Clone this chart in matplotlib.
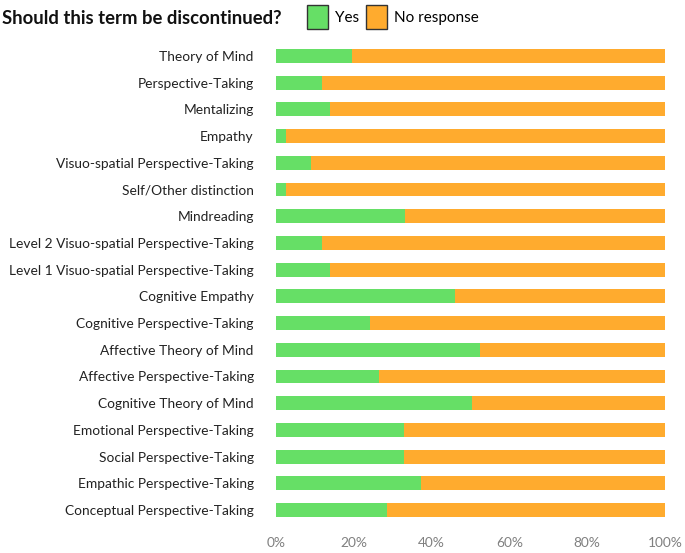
import matplotlib.pyplot as plt
from matplotlib.patches import Patch

plt.rcParams['font.family'] = ['Lato', 'DejaVu Sans']

terms = [
    "Theory of Mind", "Perspective-Taking", "Mentalizing", "Empathy",
    "Visuo-spatial Perspective-Taking", "Self/Other distinction", "Mindreading",
    "Level 2 Visuo-spatial Perspective-Taking", "Level 1 Visuo-spatial Perspective-Taking",
    "Cognitive Empathy", "Cognitive Perspective-Taking", "Affective Theory of Mind",
    "Affective Perspective-Taking", "Cognitive Theory of Mind",
    "Emotional Perspective-Taking", "Social Perspective-Taking",
    "Empathic Perspective-Taking", "Conceptual Perspective-Taking",
]
yes_pct = [19.6, 11.7, 13.8, 2.6, 8.9, 2.6, 33.2, 11.7, 13.8,
           45.9, 24.2, 52.4, 26.6, 50.5, 32.9, 32.9, 37.3, 28.5]
no_response_pct = [100 - v for v in yes_pct]

green = "#66DF66"
orange = "#FFAB2E"

fig = plt.figure(figsize=(6.85, 5.53), dpi=100)
ax = fig.add_axes([276 / 685, 1 - 523.4 / 553, 389 / 685, (523.4 - 42.6) / 553])

ypos = range(len(terms))
ax.barh(ypos, yes_pct, height=0.52, color=green)
ax.barh(ypos, no_response_pct, left=yes_pct, height=0.52, color=orange)

ax.set_ylim(len(terms) - 0.5, -0.5)
ax.set_xlim(0, 100)
ax.set_yticks(list(ypos))
ax.set_yticklabels(terms, fontsize=9.9, color="#222222")
ax.set_xticks([0, 20, 40, 60, 80, 100])
ax.set_xticklabels(["0%", "20%", "40%", "60%", "80%", "100%"], fontsize=9.9, color="#808080")
ax.tick_params(length=0, axis="y", pad=16)
ax.tick_params(length=0, axis="x", pad=10)
for s in ax.spines.values():
    s.set_visible(False)

fig.text(0.003, 0.967, "Should this term be discontinued?", fontsize=13.3,
         fontweight="bold", va="center", ha="left", color="#111111")

handles = [Patch(facecolor=green, edgecolor="#333333", linewidth=1.0, label="Yes"),
           Patch(facecolor=orange, edgecolor="#333333", linewidth=1.0, label="No response")]
fig.legend(handles=handles, loc="center left", bbox_to_anchor=(307 / 685, 0.969), ncol=2,
           frameon=False, fontsize=11, handlelength=1.4, handleheight=2.1,
           handletextpad=0.46, columnspacing=0.4, borderaxespad=0, borderpad=0)

fig.savefig("out.png", dpi=100)
